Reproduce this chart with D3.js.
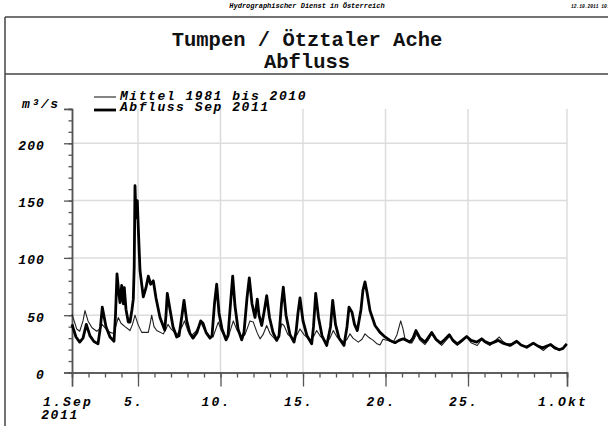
<!DOCTYPE html>
<html><head><meta charset="utf-8">
<script src="https://cdn.jsdelivr.net/npm/d3@7"></script>
<style>
html,body{margin:0;padding:0;background:#fff;}
svg{display:block;}
text{font-family:"Liberation Mono","DejaVu Sans Mono",monospace;}
</style></head>
<body>
<svg id="c" width="608" height="426"></svg>
<script>
// ---- data ----
const headerText = "Hydrographischer Dienst in Österreich";
const dateText = "12.10.2011 10:40";
const titleLines = ["Tumpen / Ötztaler Ache", "Abfluss"];
const unitLabel = "m³/s";
const seriesNames = ["Mittel 1981 bis 2010", "Abfluss Sep 2011"];

const xTickDays = [0, 4, 9, 14, 19, 24, 30];
const xTickLabels = ["1.Sep", "5.", "10.", "15.", "20.", "25.", "1.Okt"];
const xTickSub = ["2011", "", "", "", "", "", ""];
const yTicks = [0, 50, 100, 150, 200];
const yMax = 230;

// Abfluss Sep 2011 : time in days since 1 Sep 00:00, discharge m3/s
const abflussDays = [0,0.242,0.467,0.667,0.867,1.091,1.333,1.576,1.727,1.836,2.061,2.303,2.545,2.636,2.727,2.818,2.909,3.012,3.109,3.170,3.273,3.412,3.515,3.636,3.715,3.770,3.818,3.879,3.958,4.018,4.121,4.321,4.485,4.624,4.770,4.927,5.091,5.333,5.618,5.697,5.776,5.939,6.121,6.345,6.485,6.667,6.788,6.952,7.152,7.333,7.576,7.8,7.939,8.121,8.364,8.485,8.636,8.770,8.909,9.091,9.333,9.455,9.606,9.739,9.879,10.061,10.285,10.424,10.606,10.745,10.909,11.091,11.230,11.333,11.497,11.667,11.8,11.970,12.182,12.406,12.545,12.697,12.806,12.970,13.212,13.455,13.576,13.697,13.818,14.0,14.242,14.527,14.636,14.770,14.939,15.152,15.436,15.667,15.8,15.970,16.182,16.485,16.667,16.788,16.970,17.121,17.291,17.515,17.636,17.758,17.879,18.061,18.364,18.667,18.970,19.273,19.576,19.818,20.079,20.485,20.667,20.848,21.091,21.394,21.576,21.8,22.061,22.345,22.606,22.867,23.091,23.352,23.636,23.921,24.182,24.527,24.830,25.030,25.333,25.836,26.121,26.545,26.952,27.212,27.558,27.958,28.242,28.527,29.012,29.273,29.533,29.758,29.982];
const abflussValues = [42,31,26.5,30,42,32,27,25,40,57,40,31,27.3,50,86,72,61,76,60,74,55,44,44,55,64,92,163,135,150,126,89,66,74,84,77,80,65,48,37,50,69,55,40,31,32,50,63,45,34,30,35,45,43,35,30,32,60,77,52,38,28.5,32,60,84,58,38,28.5,35,65,82.6,60,48,64,50,41,55,67,48,35,28,32,60,74.4,50,33,26.5,35,52,65,45,32,25,40,69,48,32,23.6,40,63,42,30,23.6,40,57,52.6,42,36.6,55,72,79,70,54,41,35,31,28,26,28,29.4,26.5,30,36.6,30,26.5,30,35,29,25.6,29,33,28,25,28,31.4,28,26.5,29.4,27,25,28,25.5,23.6,27.3,24,22,25.6,23,21.5,24.4,21.5,19.8,21,25];

// Mittel 1981 bis 2010
const mittelDays = [0,0.285,0.467,0.667,0.788,0.970,1.212,1.497,1.697,1.818,2.061,2.303,2.545,2.685,2.806,2.970,3.212,3.515,3.667,3.818,4.0,4.224,4.624,4.727,4.830,4.970,5.133,5.533,5.697,5.818,6.0,6.364,6.667,6.818,7.030,7.224,7.515,7.8,8.0,8.364,8.545,8.867,9.030,9.273,9.515,9.776,10.0,10.285,10.485,10.788,10.988,11.212,11.394,11.576,11.8,12.0,12.303,12.545,12.709,12.848,13.091,13.412,13.636,13.818,14.061,14.424,14.667,14.830,15.030,15.436,15.636,15.836,16.061,16.485,16.667,16.848,17.030,17.352,17.576,17.758,18.0,18.261,18.485,18.667,18.848,19.133,19.473,19.697,19.921,20.061,20.182,20.588,20.727,20.891,21.091,21.394,21.576,21.8,22.061,22.406,22.667,22.909,23.091,23.352,23.636,23.921,24.182,24.564,24.830,25.030,25.333,25.576,25.897,26.121,26.345,26.606,26.952,27.152,27.455,27.758,28.061,28.303,28.564,28.788,28.970,29.212,29.533,29.758,29.982];
const mittelValues = [51,38,36,45,54,45,39,36,38,42,38,35,34,42,48,43,40,36.6,42,50,42,35,35,42,50,40,36.6,33.7,38,42,38,33,40,45,36,32,36,44,38,31,31,44,37,31,33,45,37,31,33,45,44,35,29.4,33,41,34,29,31,42.5,41,33,29.4,33,38,33,28,32,36.6,32,26.5,30,36.6,31,26.5,29,33.7,30,26.5,29,33.7,30.5,28,25,24,29,28,26.5,33,45,38,29.4,25.6,29,33.7,28,24.4,28,33.7,28,23.6,28,32,27,23.6,27,31,26,23.6,29,26,23.6,27,31,27,25,25,26.5,24.5,22.7,24,25,22,19.2,22,24.4,21,19.8,21,25];

// ---- drawing ----
const svg = d3.select("#c");
const x = d3.scaleLinear().domain([0, 30]).range([72, 567]);
const y = d3.scaleLinear().domain([0, yMax]).range([372.5, 108.9]);

const frame = "#444";
// header
svg.append("text").attr("x", 307).attr("y", 8).attr("text-anchor", "middle")
  .style("font-size", "7px").style("font-weight", "bold").style("font-style", "italic")
  .text(headerText);
svg.append("text").attr("x", 571).attr("y", 8)
  .style("font-size", "4.6px").style("font-weight", "bold").style("font-style", "italic")
  .text(dateText);
// frame lines
svg.append("line").attr("x1", 5).attr("x2", 608).attr("y1", 17).attr("y2", 17).attr("stroke", frame).attr("stroke-width", 1.5);
svg.append("line").attr("x1", 5).attr("x2", 608).attr("y1", 74).attr("y2", 74).attr("stroke", frame).attr("stroke-width", 1.5);
svg.append("line").attr("x1", 5).attr("x2", 5).attr("y1", 17).attr("y2", 426).attr("stroke", frame).attr("stroke-width", 1.5);
// title
titleLines.forEach((t, i) => {
  svg.append("text").attr("x", 307).attr("y", 46 + i * 22).attr("text-anchor", "middle")
    .style("font-size", "20.5px").style("font-weight", "bold").attr("fill", "#111")
    .text(t);
});

// grid
const g = svg.append("g");
g.selectAll(".vg").data(xTickDays.slice(1)).join("line")
  .attr("x1", d => x(d)).attr("x2", d => x(d)).attr("y1", y(yMax)).attr("y2", y(0))
  .attr("stroke", "#dcdcdc").attr("stroke-width", 1.5);
g.selectAll(".hg").data(yTicks.slice(1)).join("line")
  .attr("x1", x(0)).attr("x2", x(30)).attr("y1", d => y(d)).attr("y2", d => y(d))
  .attr("stroke", "#dcdcdc").attr("stroke-width", 1.5);

// axes
const axisColor = "#555";
const yMinor = svg.append("g").attr("transform", `translate(${x(0)},0)`)
  .call(d3.axisLeft(y).tickValues(d3.range(0, yMax + 1, 10)).tickSize(3.5).tickFormat(""));
const yMajor = svg.append("g").attr("transform", `translate(${x(0)},0)`)
  .call(d3.axisLeft(y).tickValues(yTicks.concat([yMax])).tickSize(8).tickFormat(""));
const xMinor = svg.append("g").attr("transform", `translate(0,${y(0)})`)
  .call(d3.axisBottom(x).tickValues(d3.range(0, 31, 1)).tickSize(5).tickFormat(""));
const xMajor = svg.append("g").attr("transform", `translate(0,${y(0)})`)
  .call(d3.axisBottom(x).tickValues(xTickDays).tickSize(14).tickFormat(""));
[yMinor, yMajor, xMinor, xMajor].forEach(a => {
  a.select(".domain").attr("stroke", axisColor).attr("stroke-width", 1.5);
  a.selectAll(".tick line").attr("stroke", axisColor).attr("stroke-width", 1.3);
});

const lblStyle = (sel, ls) => sel.style("font-size", "13px").style("font-weight", "bold")
  .style("font-style", "italic").style("letter-spacing", ls + "px").attr("fill", "#000");

svg.selectAll(".yl").data(yTicks).join("text")
  .attr("x", 45).attr("y", d => y(d) + 6.5).attr("text-anchor", "end")
  .call(lblStyle, 1.1).text(d => d);
svg.append("text").attr("x", 22).attr("y", 108).call(lblStyle, 1.6).text(unitLabel);

svg.selectAll(".xl").data(xTickDays).join("text")
  .attr("x", d => x(d) - 4).attr("y", 406).attr("text-anchor", "middle")
  .call(lblStyle, 2.2).text((d, i) => xTickLabels[i]);
svg.selectAll(".xl2").data(xTickDays).join("text")
  .attr("x", d => x(d) - 12).attr("y", 419).attr("text-anchor", "middle")
  .call(lblStyle, 1.6).text((d, i) => xTickSub[i]);

// lines
const line = d3.line().x(d => x(d[0])).y(d => y(d[1]));
const mittel = mittelDays.map((d, i) => [d, mittelValues[i]]);
const abfluss = abflussDays.map((d, i) => [d, abflussValues[i]]);
svg.append("path").datum(mittel).attr("d", line).attr("fill", "none")
  .attr("stroke", "#222").attr("stroke-width", 1.1).attr("stroke-linejoin", "round");
svg.append("path").datum(abfluss).attr("d", line).attr("fill", "none")
  .attr("stroke", "#000").attr("stroke-width", 2.8).attr("stroke-linejoin", "round");

// legend
svg.append("line").attr("x1", 94).attr("x2", 116).attr("y1", 97).attr("y2", 97).attr("stroke", "#222").attr("stroke-width", 1.1);
svg.append("line").attr("x1", 94).attr("x2", 116).attr("y1", 110).attr("y2", 110).attr("stroke", "#000").attr("stroke-width", 2.8);
svg.append("text").attr("x", 120).attr("y", 100).call(lblStyle, 1.55).text(seriesNames[0]);
svg.append("text").attr("x", 120).attr("y", 111).call(lblStyle, 1.55).text(seriesNames[1]);
</script>
</body></html>
